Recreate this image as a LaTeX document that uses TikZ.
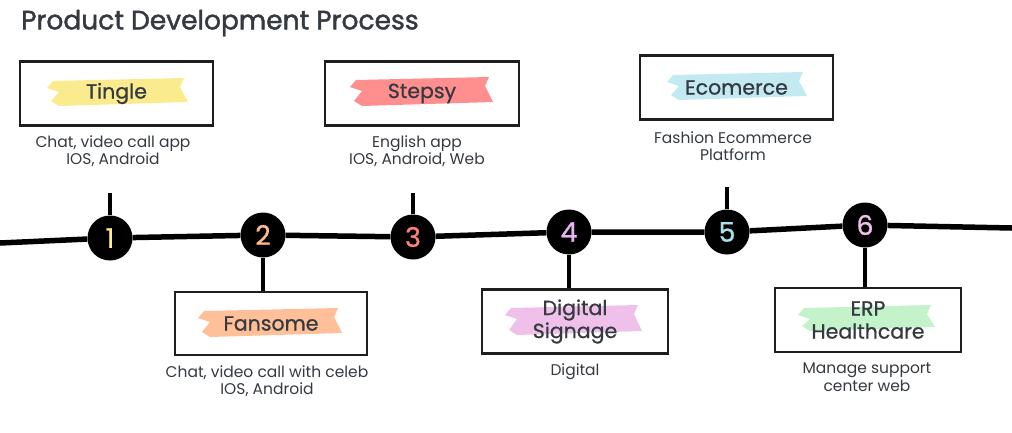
\documentclass[tikz,border=0pt]{standalone}
\usepackage{fontspec}
\setmainfont{Poppins}
\newfontfamily\heavyfont{Poppins}[FakeBold=1.6]
\newfontfamily\midfont{Poppins}[FakeBold=0.8]
\definecolor{ink}{HTML}{343A40}
\definecolor{stroke}{HTML}{1E1E1E}
\definecolor{hlyellow}{HTML}{FBEB8F}
\definecolor{hlred}{HTML}{FF8F8F}
\definecolor{hlblue}{HTML}{C3EAF2}
\definecolor{hlorange}{HTML}{FFBF98}
\definecolor{hlpink}{HTML}{EFC1EA}
\definecolor{hlgreen}{HTML}{C3F2CB}
\definecolor{n1}{HTML}{FFEC8A}
\definecolor{n2}{HTML}{FFB98A}
\definecolor{n3}{HTML}{FF7F7F}
\definecolor{n4}{HTML}{E8B4F0}
\definecolor{n5}{HTML}{A8E2F0}
\definecolor{n6}{HTML}{F0C0EC}
\newcommand{\brush}[5]{%
  \fill[#1] (#2+6,#4+3) -- (#3-4,#4) -- (#3-8,#4+9) -- (#3,#5-4)
    -- (#2+12,#5) -- (#2+4,#5-5) -- (#2+12,#4+14) -- (#2,#4+10) -- cycle;}
\tikzset{
  card/.style={draw=stroke, line width=2.6pt, minimum width=#1, minimum height=64pt,
    inner sep=0pt, font=\midfont\fontsize{20.5}{23}\selectfont, text=ink, align=center},
  card/.default=192pt,
  subtext/.style={font=\fontsize{15.5}{17.5}\selectfont, text=ink, align=center, inner sep=0pt},
  dot/.style={circle, fill=black, minimum size=45pt, inner sep=0pt,
    font=\midfont\fontsize{27}{27}\selectfont},
  rail/.style={line width=5.5pt, black},
  stem/.style={line width=3.6pt, black}
}
\begin{document}
\begin{tikzpicture}[x=1pt,y=-1pt]
\useasboundingbox (0,0) rectangle (1012,432);
% title
\node[anchor=west, text=ink, font=\heavyfont\fontsize{26.5}{28}\selectfont, inner sep=0pt] (title) at (21,23) {Product Development Process};
% highlights
\brush{hlyellow}{47}{188}{78}{106}
\brush{hlred}{350}{493}{77}{106}
\brush{hlblue}{667}{807}{72}{100}
\brush{hlorange}{198}{342}{308}{337}
\brush{hlpink}{505}{642}{305}{335}
\brush{hlgreen}{798}{935}{305}{331}
% cards
\node[card=193pt] (b1) at (116.5,93.5) {Tingle};
\node[card=194pt] (b3) at (422,93.5) {Stepsy};
\node[card=193pt] (b5) at (736.5,87.5) {Ecomerce};
\node[card=192pt, minimum height=63pt] (b2) at (271,323.5) {Fansome};
\node[card=186pt] (b4) at (575,321.5) {Digital\\Signage};
\node[card=186pt] (b6) at (868,320) {ERP\\Healthcare};
% descriptions
\node[subtext] (t1) at (113,151) {Chat, video call app\\IOS, Android};
\node[subtext] (t3) at (417,151) {English app\\IOS, Android, Web};
\node[subtext] (t5) at (733,146) {Fashion Ecommerce\\Platform};
\node[subtext] (t2) at (267,381) {Chat, video call with celeb\\IOS, Android};
\node[subtext] (t4) at (575,372) {Digital};
\node[subtext] (t6) at (867,377) {Manage support\\center web};
% timeline
\coordinate (L) at (0,243);
\coordinate (R) at (1012,228);
\node[dot, text=n1] (c1) at (110,238) {1};
\node[dot, text=n2] (c2) at (263,235) {2};
\node[dot, text=n3] (c3) at (413,237) {3};
\node[dot, text=n4] (c4) at (569,232) {4};
\node[dot, text=n5] (c5) at (727,232) {5};
\node[dot, text=n6] (c6) at (865,225) {6};
\coordinate (s1) at (110,193);
\coordinate (s3) at (413,193);
\coordinate (s5) at (727,187);
\draw[rail] (L) -- (c1) -- (c2) -- (c3) -- (c4) -- (c5) -- (c6) -- (R);
\draw[stem] (c1) -- (s1);
\draw[stem] (c3) -- (s3);
\draw[stem] (c5) -- (s5);
\draw[stem] (c2) -- (c2 |- b2.north);
\draw[stem] (c4) -- (c4 |- b4.north);
\draw[stem] (c6) -- (c6 |- b6.north);
\end{tikzpicture}
\end{document}
